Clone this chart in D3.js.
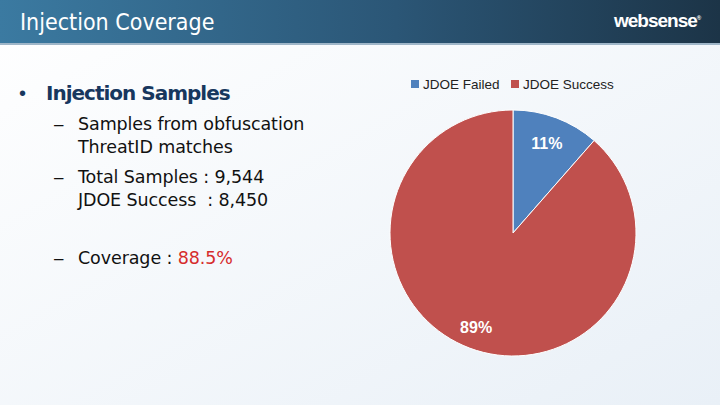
<!DOCTYPE html>
<html>
<head>
<meta charset="utf-8">
<script src="https://cdn.jsdelivr.net/npm/d3@7"></script>
<style>
  html, body { margin: 0; padding: 0; }
  svg { display: block; font-family: "Liberation Sans", Arial, sans-serif; }
</style>
</head>
<body>
<svg id="chart" width="720" height="405"></svg>
<script>
// data
var categories = ["JDOE Failed", "JDOE Success"];
var values = [1094, 8450];
var pctLabels = ["11%", "89%"];
var colors = ["#4f81bd", "#c0504d"];

var bullets = [
    {level: 0, lines: ["Injection Samples"]},
    {level: 1, lines: ["Samples from obfuscation", "ThreatID matches"]},
    {level: 1, lines: ["Total Samples : 9,544", "JDOE Success  : 8,450"]},
    {level: 1, lines: ["Coverage : "], highlight: "88.5%"}
];

var width = 720,
    height = 405;

var svg = d3.select("#chart");
var defs = svg.append("defs");

var bg = defs.append("linearGradient").attr("id", "bg")
    .attr("x1", 0).attr("y1", 0).attr("x2", 1).attr("y2", 1);
bg.append("stop").attr("offset", "0%").attr("stop-color", "#ffffff");
bg.append("stop").attr("offset", "100%").attr("stop-color", "#e9f0f7");

var hdr = defs.append("linearGradient").attr("id", "hdr")
    .attr("x1", 0).attr("y1", 0).attr("x2", 1).attr("y2", 0);
hdr.append("stop").attr("offset", "0%").attr("stop-color", "#3b7aa1");
hdr.append("stop").attr("offset", "55%").attr("stop-color", "#2b5676");
hdr.append("stop").attr("offset", "100%").attr("stop-color", "#1c3447");

svg.append("rect").attr("width", width).attr("height", height).attr("fill", "url(#bg)");

// header band
svg.append("rect").attr("width", width).attr("height", 43).attr("fill", "url(#hdr)");
svg.append("rect").attr("y", 43).attr("width", width).attr("height", 2).attr("fill", "#9fb6c8");

svg.append("text")
    .attr("x", 20).attr("y", 30)
    .attr("fill", "#ffffff")
    .style("font-size", "23px")
    .style("font-family", "'DejaVu Sans Condensed', 'Liberation Sans Narrow', sans-serif")
    .text("Injection Coverage");

var logo = svg.append("text")
    .attr("x", 614).attr("y", 27)
    .attr("fill", "#ffffff")
    .style("font-size", "19px")
    .style("font-weight", "bold")
    .style("letter-spacing", "-1px")
    .text("websense");
logo.append("tspan").attr("dy", -7).style("font-size", "6px").text("®");

// left text
var lineY = [100, 130, 153, 183, 206, 264];
var k = 0;
bullets.forEach(function(b) {
    b.lines.forEach(function(line, j) {
        var y = lineY[k++];
        if (b.level === 0) {
            svg.append("text").attr("x", 19).attr("y", y)
                .attr("fill", "#17375e").style("font-size", "20px").text("•");
            svg.append("text").attr("x", 46).attr("y", y)
                .attr("fill", "#17375e").style("font-size", "20px")
                .style("font-weight", "bold").style("font-family", "'DejaVu Sans', sans-serif")
                .style("letter-spacing", "-1px")
                .text(line);
        } else {
            if (j === 0) {
                svg.append("text").attr("x", 54).attr("y", y)
                    .attr("fill", "#111").style("font-size", "17px").text("–");
            }
            var t = svg.append("text").attr("x", 78).attr("y", y)
                .attr("fill", "#111").style("font-size", "17.5px")
                .style("font-family", "'DejaVu Sans', sans-serif")
                .style("letter-spacing", "-0.1px")
                .attr("xml:space", "preserve")
                .text(line);
            if (b.highlight) {
                t.append("tspan").attr("fill", "#d62b2b").text(b.highlight);
            }
        }
    });
});

// pie
var cx = 513, cy = 233, r = 123;
var pie = d3.pie().sort(null).value(function(d) { return d; });
var arcs = pie(values);
var arc = d3.arc().innerRadius(0).outerRadius(r);
var labelArc = d3.arc().innerRadius(r * 0.78).outerRadius(r * 0.78);

var g = svg.append("g").attr("transform", "translate(" + cx + "," + cy + ")");

g.selectAll("path.slice")
    .data(arcs)
    .enter().append("path")
    .attr("class", "slice")
    .attr("d", arc)
    .attr("fill", function(d, i) { return colors[i]; })
    .attr("stroke", "#ffffff")
    .attr("stroke-width", 1);

g.selectAll("text.pct")
    .data(arcs)
    .enter().append("text")
    .attr("class", "pct")
    .attr("transform", function(d, i) {
        var c = i === 0 ? labelArc.centroid(d) : [-r * 0.3, r * 0.77];
        return "translate(" + c + ")";
    })
    .attr("text-anchor", "middle")
    .attr("dy", "0.35em")
    .attr("fill", "#ffffff")
    .style("font-size", "16px")
    .style("font-family", "'Liberation Sans', sans-serif")
    .style("font-weight", "bold")
    .text(function(d, i) { return pctLabels[i]; });

// legend
var legend = svg.append("g").selectAll("g")
    .data(categories)
    .enter().append("g")
    .attr("transform", function(d, i) { return "translate(" + (411 + i * 100) + ",84)"; });

legend.append("rect")
    .attr("x", 0).attr("y", -4)
    .attr("width", 8).attr("height", 8)
    .attr("fill", function(d, i) { return colors[i]; });

legend.append("text")
    .attr("x", 12).attr("dy", "0.35em")
    .attr("fill", "#222")
    .style("font-size", "13.5px")
    .text(function(d) { return d; });
</script>
</body>
</html>
